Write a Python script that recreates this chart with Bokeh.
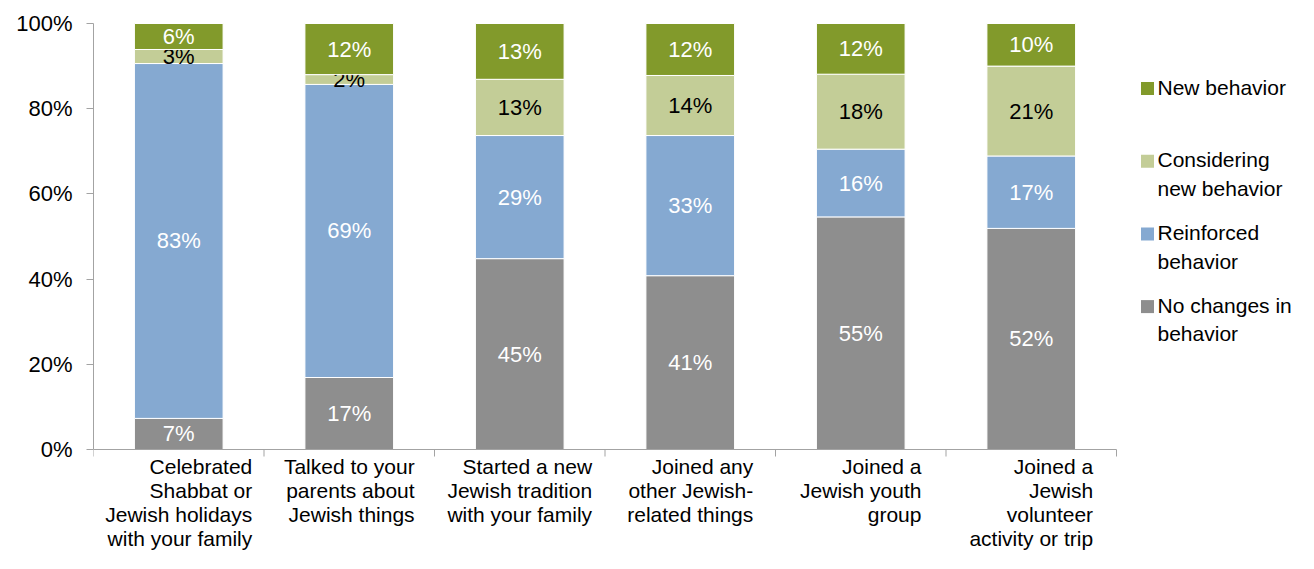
from bokeh.plotting import figure
from bokeh.models import Range1d, LinearAxis, FixedTicker, PrintfTickFormatter
from bokeh.embed import file_html
from bokeh.resources import INLINE
from bokeh.core.properties import value

# ---------------- data ----------------
categories = [
    "Celebrated\nShabbat or\nJewish holidays\nwith your family",
    "Talked to your\nparents about\nJewish things",
    "Started a new\nJewish tradition\nwith your family",
    "Joined any\nother Jewish-\nrelated things",
    "Joined a\nJewish youth\ngroup",
    "Joined a\nJewish\nvolunteer\nactivity or trip",
]
series_names = ["No changes in behavior", "Reinforced behavior",
                "Considering new behavior", "New behavior"]
legend_labels = ["New behavior", "Considering\nnew behavior",
                 "Reinforced\nbehavior", "No changes in\nbehavior"]
no_changes = [7.3, 16.9, 44.8, 40.8, 54.6, 51.9]
reinforced = [83.3, 68.8, 28.9, 32.9, 15.9, 17.0]
considering = [3.3, 2.3, 13.2, 14.1, 17.6, 21.1]
new_behavior = [6.1, 12.0, 13.1, 12.2, 11.9, 10.0]
y_ticks = [0, 20, 40, 60, 80, 100]

# ---------------- styles ----------------
colors = ["#8E8E8E", "#85A9D1", "#C3CD97", "#829A2B"]
label_colors = ["white", "white", "black", "white"]
axis_color = "#A3A3A3"
FONT = "Liberation Sans"

W, H = 1298, 553
LEFT = 93
PX_X = 170.5          # pixels per category
PX_Y = 4.26           # pixels per percent
Y_TOP = 100 + 23 / PX_Y
X_END = (W - LEFT) / PX_X
Y_BOT = Y_TOP - H / PX_Y
BAR_W = 0.52

p = figure(width=W, height=H, output_backend="svg", toolbar_location=None,
           x_range=Range1d(0, X_END), y_range=Range1d(Y_BOT, Y_TOP),
           x_axis_type=None, y_axis_type=None,
           min_border_left=LEFT, min_border_right=0,
           min_border_top=0, min_border_bottom=0)
p.outline_line_color = None
p.grid.visible = False
p.background_fill_color = "white"
p.border_fill_color = "white"

n = len(categories)
centers = [i + 0.5 for i in range(n)]

# stacked bars
series = [no_changes, reinforced, considering, new_behavior]
bottoms = [0.0] * n
for vals, col, lcol in zip(series, colors, label_colors):
    tops = [b + v for b, v in zip(bottoms, vals)]
    p.vbar(x=centers, width=BAR_W, bottom=bottoms, top=tops,
           fill_color=col, line_color="white", line_width=1)
    mids = [(b + t) / 2 for b, t in zip(bottoms, tops)]
    p.text(x=centers, y=mids, text=[f"{round(v)}%" for v in vals],
           text_color=lcol, text_font=value(FONT), text_font_size="22px",
           text_align="center", text_baseline="middle")
    bottoms = tops

# y axis
yaxis = LinearAxis(ticker=FixedTicker(ticks=y_ticks), bounds=(0, 100),
                   formatter=PrintfTickFormatter(format="%d%%"))
yaxis.axis_line_color = axis_color
yaxis.major_tick_line_color = axis_color
yaxis.minor_tick_line_color = None
yaxis.major_tick_in = 0
yaxis.major_tick_out = 7
yaxis.major_label_standoff = 14
yaxis.major_label_text_font = FONT
yaxis.major_label_text_font_size = "22px"
yaxis.major_label_text_color = "black"
p.add_layout(yaxis, "left")

# x axis line and boundary ticks
bounds_x = list(range(n + 1))
tick_len = 7 / PX_Y
p.segment(x0=[0], y0=[0], x1=[n], y1=[0], line_color=axis_color, line_width=1)
p.segment(x0=bounds_x, y0=[0] * (n + 1), x1=bounds_x, y1=[-tick_len] * (n + 1),
          line_color=axis_color, line_width=1)

# category labels
p.text(x=centers, y=[0] * n, text=categories, anchor="top_center",
       text_align="right", y_offset=5, text_font=value(FONT),
       text_font_size="21px", text_color="black", text_line_height=1.05)

# legend (manual)
leg_x_sq = (1147 - LEFT) / PX_X
leg_x_tx = (1157 - LEFT) / PX_X
leg_y0 = Y_TOP - 88 / PX_Y
leg_step = 72.7 / PX_Y
leg_ys = [leg_y0 - i * leg_step for i in range(4)]
leg_colors = colors[::-1]
p.scatter(x=[leg_x_sq] * 4, y=leg_ys, marker="square", size=13,
          fill_color=leg_colors, line_color=None)
p.text(x=[leg_x_tx] * 4, y=leg_ys, text=legend_labels, anchor="top_left",
       text_align="left", y_offset=-13, text_font=value(FONT),
       text_font_size="21px", text_color="black", text_line_height=1.25)

open("out.html", "w").write(file_html(p, INLINE))
